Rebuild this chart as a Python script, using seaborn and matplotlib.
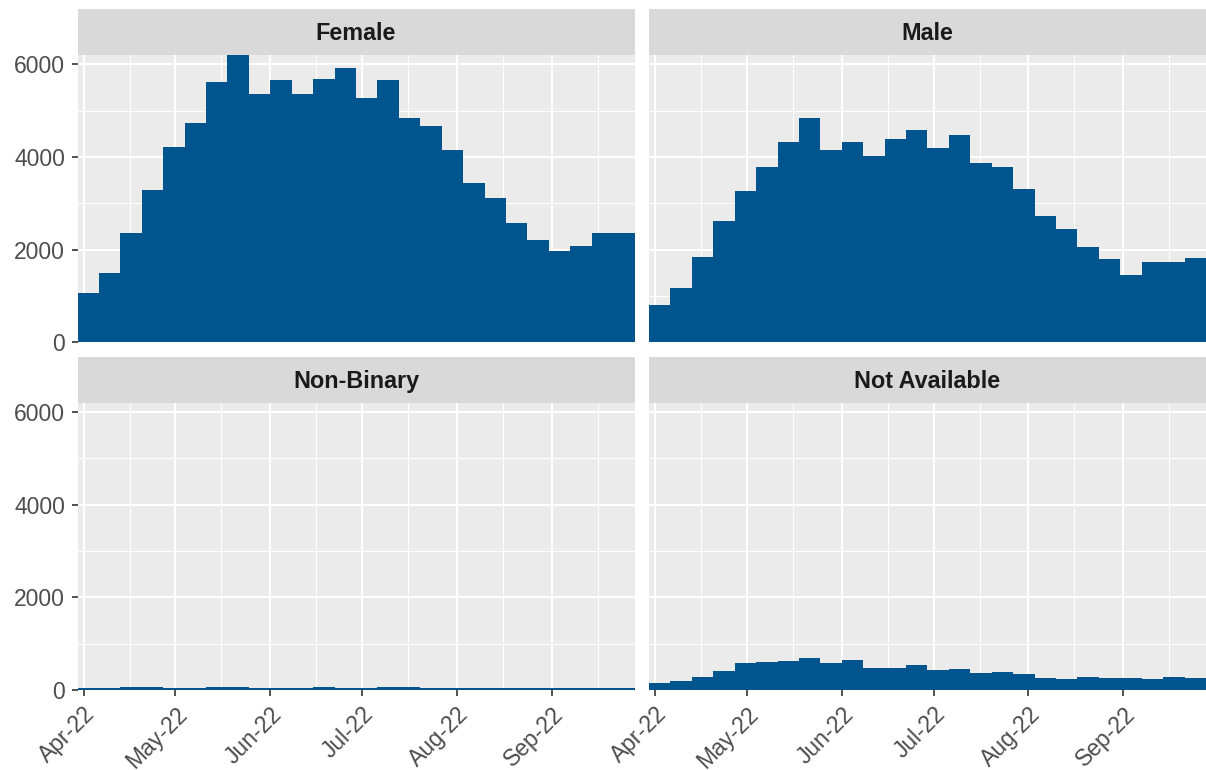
import matplotlib
matplotlib.use("Agg")
import matplotlib.pyplot as plt
import matplotlib.dates as mdates
from matplotlib.patches import Rectangle
import seaborn as sns
import pandas as pd
import numpy as np

# weekly counts, bins start 2022-03-30
week_start = pd.date_range("2022-03-30", periods=26, freq="7D")

female = [1065, 1495, 2355, 3290, 4210, 4730, 5625, 6200, 5355, 5660, 5355, 5685, 5930,
          5270, 5665, 4850, 4670, 4155, 3450, 3110, 2575, 2200, 1975, 2090, 2355, 2360]
male = [810, 1165, 1845, 2615, 3270, 3795, 4330, 4835, 4145, 4330, 4015, 4385, 4575,
        4205, 4470, 3880, 3795, 3305, 2730, 2445, 2060, 1795, 1450, 1730, 1730, 1825]
non_binary = [35, 35, 55, 55, 35, 35, 55, 55, 35, 35, 35, 55, 35,
              35, 55, 55, 35, 35, 35, 35, 35, 35, 35, 35, 35, 35]
not_available = [155, 200, 275, 415, 580, 595, 635, 695, 580, 650, 470, 485, 530,
                 435, 460, 365, 385, 335, 250, 235, 275, 250, 250, 235, 290, 265]

genders = ["Female", "Male", "Non-Binary", "Not Available"]
series = [female, male, non_binary, not_available]

df = pd.concat([
    pd.DataFrame({"gender": g, "week": week_start, "count": v})
    for g, v in zip(genders, series)
])
df["day"] = mdates.date2num(df["week"]) + 3.5

x0 = mdates.date2num(week_start[0])
x1 = x0 + 26 * 7

sns.set_style("darkgrid", {"axes.facecolor": "#EBEBEB", "grid.color": "white"})
plt.rcParams["font.family"] = ["Liberation Sans", "DejaVu Sans"]

fig = plt.figure(figsize=(12.06, 7.7), dpi=100)
axes = fig.subplots(2, 2, sharex=True, sharey=True)
fig.subplots_adjust(left=77.5 / 1206, right=1.0, top=1 - 55 / 770, bottom=80 / 770,
                    wspace=14.5 / 560.5, hspace=60 / 287.5)

strip_h = 46 / 287.5
for i, (ax, g) in enumerate(zip(axes.flat, genders)):
    sub = df[df["gender"] == g]
    sns.histplot(data=sub, x="day", weights="count", binwidth=7, binrange=(x0, x1),
                 ax=ax, color="#00558F", alpha=1, linewidth=0, edgecolor="none")
    ax.set_xlim(x0, x1)
    ax.set_ylim(0, 6200)
    ax.set_xlabel("")
    ax.set_ylabel("")
    ax.set_axisbelow(True)
    for s in ax.spines.values():
        s.set_visible(False)

    ax.xaxis.set_major_locator(mdates.MonthLocator())
    ax.xaxis.set_minor_locator(mdates.MonthLocator(bymonthday=16))
    ax.xaxis.set_major_formatter(mdates.DateFormatter("%b-%y"))
    ax.set_yticks([0, 2000, 4000, 6000])
    ax.set_yticks([1000, 3000, 5000], minor=True)
    ax.grid(which="major", color="white", linewidth=1.5)
    ax.grid(which="minor", color="white", linewidth=0.7)

    ax.tick_params(which="major", length=4.5, width=1.2, color="#333333",
                   labelcolor="#4D4D4D", labelsize=16.5, pad=4.5)
    ax.tick_params(which="minor", length=0)

    row, col = divmod(i, 2)
    if row == 0:
        ax.tick_params(axis="x", bottom=False, labelbottom=False)
    else:
        ax.tick_params(axis="x", bottom=True, labelbottom=True)
        for lab in ax.get_xticklabels():
            lab.set_rotation(45)
            lab.set_ha("right")
            lab.set_rotation_mode("anchor")
    if col == 1:
        ax.tick_params(axis="y", left=False, labelleft=False)
    else:
        ax.tick_params(axis="y", left=True, labelleft=True)

    ax.add_patch(Rectangle((0, 1), 1, strip_h, transform=ax.transAxes,
                           facecolor="#D9D9D9", edgecolor="none", clip_on=False))
    ax.text(0.5, 1 + strip_h / 2 - 0.006, g, transform=ax.transAxes, ha="center",
            va="center", fontsize=16.8, fontweight="bold", color="#1A1A1A")

fig.savefig("out.png", dpi=100)
